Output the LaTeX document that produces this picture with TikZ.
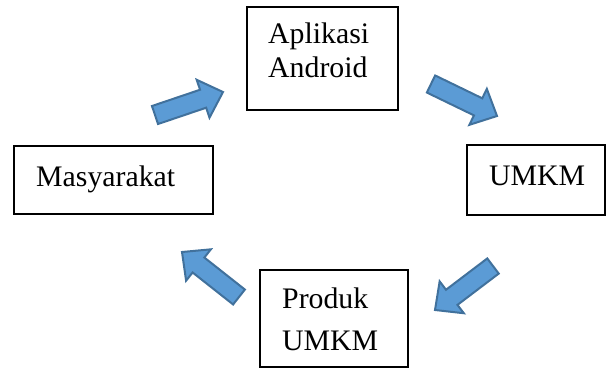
\documentclass[tikz,border=0pt]{standalone}
\usepackage{fontspec}
\setmainfont{Liberation Serif}
\usetikzlibrary{calc}
\definecolor{arrowfill}{HTML}{5B9BD5}
\definecolor{arrowedge}{HTML}{41719C}
\tikzset{
  box/.style={draw=black, line width=1.5pt, rectangle, inner sep=0pt},
  label text/.style={inner sep=0pt, anchor=base west, font=\fontsize{29.8}{34}\selectfont},
  blockarrow/.style={draw=arrowedge, fill=arrowfill, line width=2pt, line join=miter}
}
\newcommand\blockarrow[2]{%
  \draw[blockarrow]
    ($(#1)!9.5pt!90:(#2)$) --
    ($($(#2)!21pt!(#1)$)!9.5pt!-90:(#1)$) --
    ($($(#2)!21pt!(#1)$)!20pt!-90:(#1)$) --
    (#2) --
    ($($(#2)!21pt!(#1)$)!20pt!90:(#1)$) --
    ($($(#2)!21pt!(#1)$)!9.5pt!90:(#1)$) --
    ($(#1)!9.5pt!-90:(#2)$) -- cycle;
}
\begin{document}
\begin{tikzpicture}[x=1pt,y=-1pt]
\useasboundingbox (0,0) rectangle (607,368);
% boxes
\node[box, minimum width=151pt, minimum height=103pt] (app) at (322.5,58.5) {};
\node[box, minimum width=199pt, minimum height=68pt] (mas) at (113.5,180) {};
\node[box, minimum width=138pt, minimum height=70pt] (umkm) at (536,180) {};
\node[box, minimum width=148pt, minimum height=97pt] (prod) at (334,318.5) {};
% texts
\node[label text] (t1) at (268,43) {Aplikasi};
\node[label text] (t2) at (268,77) {Android};
\node[label text] (t3) at (36,186) {Masyarakat};
\node[label text] (t4) at (489,185) {UMKM};
\node[label text] (t5) at (282,308) {Produk};
\node[label text] (t6) at (282,350) {UMKM};
% arrow endpoints
\coordinate (a1s) at (155,115); \coordinate (a1e) at (223,92);
\coordinate (a2s) at (431,84);  \coordinate (a2e) at (497,116);
\coordinate (a3s) at (493,266); \coordinate (a3e) at (435,310);
\coordinate (a4s) at (239,297); \coordinate (a4e) at (182,252);
\blockarrow{a1s}{a1e}
\blockarrow{a2s}{a2e}
\blockarrow{a3s}{a3e}
\blockarrow{a4s}{a4e}
\end{tikzpicture}
\end{document}
